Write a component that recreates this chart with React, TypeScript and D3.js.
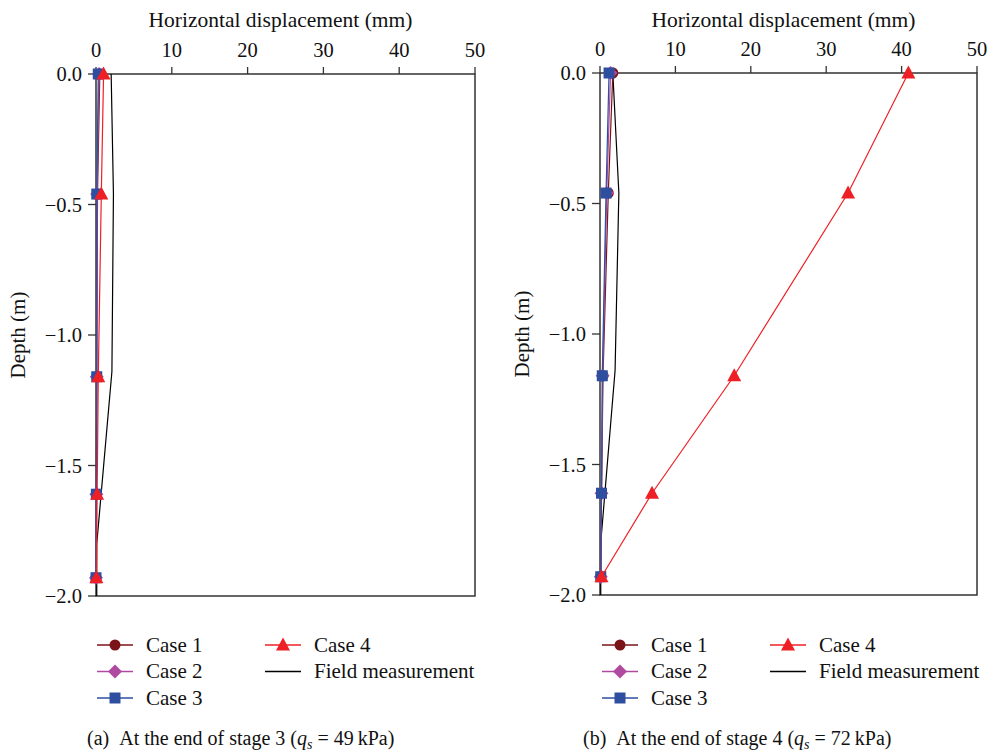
import React from "react";
import * as d3 from "d3";

const depths = [0, -0.46, -1.16, -1.61, -1.93];
const fieldDepths = [0, -0.46, -1.14, -1.8, -2.0];

const leftCase1 = [0.5, 0.2, 0.1, 0.05, 0.0];
const leftCase2 = [0.4, 0.15, 0.1, 0.05, 0.0];
const leftCase3 = [0.3, 0.1, 0.1, 0.05, 0.0];
const leftCase4 = [1.0, 0.7, 0.3, 0.15, 0.05];
const leftField = [2.0, 2.3, 2.1, 0.1, 0.1];

const rightCase1 = [1.7, 1.1, 0.4, 0.2, 0.1];
const rightCase2 = [1.4, 0.9, 0.35, 0.2, 0.1];
const rightCase3 = [1.2, 0.8, 0.3, 0.2, 0.1];
const rightCase4 = [40.9, 32.9, 17.8, 6.9, 0.2];
const rightField = [1.7, 2.5, 2.0, 0.1, 0.1];

const xTicks = [0, 10, 20, 30, 40, 50];
const yTicks = [0, -0.5, -1.0, -1.5, -2.0];
const legendLabels = ["Case 1", "Case 2", "Case 3", "Case 4", "Field measurement"];
const caseColors = ["#7a1418", "#b04aa0", "#2e4ea0", "#ee2026"];
const captions = [
  { tag: "(a)", stage: "3", q: "49" },
  { tag: "(b)", stage: "4", q: "72" },
];

const FONT = "'Liberation Serif', 'Times New Roman', serif";
const AXIS = "#333";

function Marker({ kind, x, y, color }: { kind: number; x: number; y: number; color: string }) {
  if (kind === 0) return <circle cx={x} cy={y} r={5.5} fill={color} />;
  if (kind === 1) {
    const s = 7;
    return <path d={`M${x},${y - s}L${x + s},${y}L${x},${y + s}L${x - s},${y}Z`} fill={color} />;
  }
  if (kind === 2) return <rect x={x - 5.5} y={y - 5.5} width={11} height={11} fill={color} />;
  const s = 6.5;
  return <path d={`M${x},${y - s - 1}L${x + s + 0.5},${y + s - 1}L${x - s - 0.5},${y + s - 1}Z`} fill={color} />;
}

function Panel({
  x0, x1, y0, y1, cases, field, showYLabel,
}: {
  x0: number; x1: number; y0: number; y1: number;
  cases: number[][]; field: number[]; showYLabel: boolean;
}) {
  const xs = d3.scaleLinear().domain([0, 50]).range([x0, x1]);
  const ys = d3.scaleLinear().domain([0, -2]).range([y0, y1]);
  const line = d3.line<[number, number]>().x((d) => xs(d[0])).y((d) => ys(d[1]));
  return (
    <g fontFamily={FONT}>
      <text x={(x0 + x1) / 2 - 5} y={27} textAnchor="middle" fontSize={21.5} fill="#111">
        Horizontal displacement (mm)
      </text>
      {xTicks.map((t) => (
        <g key={t}>
          <line x1={xs(t)} x2={xs(t)} y1={y0} y2={y0 - 7} stroke={AXIS} strokeWidth={1.3} />
          <text x={xs(t)} y={y0 - 17} textAnchor="middle" fontSize={20.5} fill="#111">{t}</text>
        </g>
      ))}
      {yTicks.map((t) => (
        <g key={t}>
          <line x1={x0 - 8} x2={x0} y1={ys(t)} y2={ys(t)} stroke={AXIS} strokeWidth={1.3} />
          <text x={x0 - 14} y={ys(t)} dy="0.35em" textAnchor="end" fontSize={20.5} fill="#111">
            {t === 0 ? "0.0" : "\u2212" + Math.abs(t).toFixed(1)}
          </text>
        </g>
      ))}
      <rect x={x0} y={y0} width={x1 - x0} height={y1 - y0} fill="none" stroke={AXIS} strokeWidth={1.5} />
      {showYLabel && (
        <text transform={`translate(${x0 - 71},${(y0 + y1) / 2}) rotate(-90)`} textAnchor="middle" fontSize={21} fill="#111">
          Depth (m)
        </text>
      )}
      <path d={line(field.map((v, i) => [v, fieldDepths[i]] as [number, number])) || ""} fill="none" stroke="#000" strokeWidth={1.2} />
      {cases.map((vals, ci) => (
        <g key={ci}>
          <path d={line(vals.map((v, i) => [v, depths[i]] as [number, number])) || ""} fill="none" stroke={caseColors[ci]} strokeWidth={1.2} />
          {vals.map((v, i) => (
            <Marker key={i} kind={ci} x={xs(v)} y={ys(depths[i])} color={caseColors[ci]} />
          ))}
        </g>
      ))}
    </g>
  );
}

function Legend({ x, y }: { x: number; y: number }) {
  const rowH = 26.5;
  const items = legendLabels.map((label, i) => {
    const col = i < 3 ? 0 : 1;
    const row = i < 3 ? i : i - 3;
    return { label, i, lx: x + col * 168, ly: y + row * rowH };
  });
  return (
    <g fontFamily={FONT}>
      {items.map(({ label, i, lx, ly }) => (
        <g key={label}>
          <line x1={lx} x2={lx + 36} y1={ly} y2={ly} stroke={i < 4 ? caseColors[i] : "#000"} strokeWidth={1.3} />
          {i < 4 && <Marker kind={i} x={lx + 18} y={ly} color={caseColors[i]} />}
          <text x={lx + 49} y={ly} dy="0.33em" fontSize={21} fill="#111">{label}</text>
        </g>
      ))}
    </g>
  );
}

function Caption({ x, y, idx }: { x: number; y: number; idx: number }) {
  const c = captions[idx];
  return (
    <text x={x} y={y} fontFamily={FONT} fontSize={20} fill="#111" xmlSpace="preserve">
      <tspan>{c.tag}</tspan>
      <tspan dx={10}>{`At the end of stage ${c.stage} (`}</tspan>
      <tspan fontStyle="italic">q</tspan>
      <tspan fontStyle="italic" fontSize={14} dy={4}>s</tspan>
      <tspan dy={-4}>{` = ${c.q}\u2009kPa)`}</tspan>
    </text>
  );
}

export default function App() {
  return (
    <svg
      width={991}
      height={754}
      style={{ position: "absolute", left: 0, top: 0, background: "#fff" }}
    >
      <rect width={991} height={754} fill="#fff" />
      <Panel x0={96} x1={475} y0={74} y1={596} cases={[leftCase1, leftCase2, leftCase3, leftCase4]} field={leftField} showYLabel={true} />
      <Panel x0={600} x1={977} y0={73} y1={595} cases={[rightCase1, rightCase2, rightCase3, rightCase4]} field={rightField} showYLabel={true} />
      <Legend x={97} y={645} />
      <Legend x={602} y={645} />
      <Caption x={87} y={745} idx={0} />
      <Caption x={583} y={745} idx={1} />
    </svg>
  );
}
